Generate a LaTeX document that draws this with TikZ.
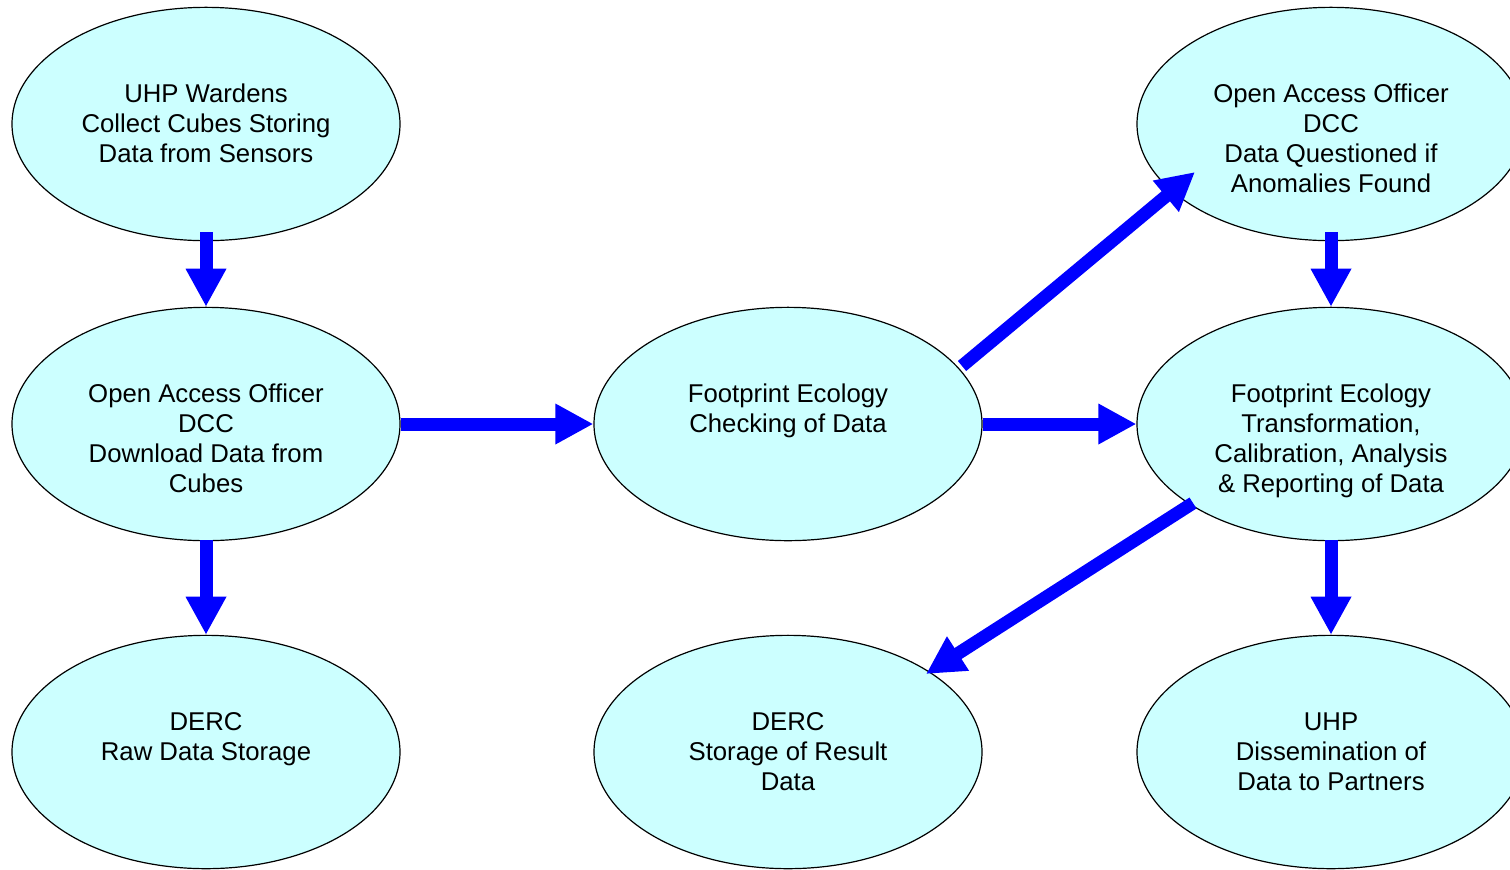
\documentclass[tikz,border=0pt]{standalone}
\usepackage{fontspec}
\setmainfont{Liberation Sans}
\usetikzlibrary{shapes.geometric,arrows.meta,calc}
\definecolor{bubble}{RGB}{204,255,255}
\definecolor{arrowblue}{RGB}{0,0,255}
\tikzset{
  bub/.style={ellipse,draw=black,line width=0.9pt,fill=bubble,minimum width=291pt,minimum height=175pt,inner sep=0pt},
  txt/.style={anchor=north,align=center,inner sep=0pt,font=\fontsize{19.3}{22.5}\selectfont},
  arr/.style={draw=arrowblue,line width=9.75pt,-{Triangle[width=28.5pt,length=28.5pt]}}
}
\begin{document}
\begin{tikzpicture}[x=0.75pt,y=-0.75pt]
\useasboundingbox (0,0) rectangle (1510,869);
\clip (0,0) rectangle (1510,869);
\node[bub] (tl) at (206,124) {};
\node[bub] (ml) at (206,424) {};
\node[bub] (bl) at (206,752) {};
\node[bub] (mc) at (788,424) {};
\node[bub] (bc) at (788,752) {};
\node[bub] (tr) at (1331,124) {};
\node[bub] (mr) at (1331,424) {};
\node[bub] (br) at (1331,752) {};

\node[txt] (ttl) at ($(tl)+(0,-43)$) {\strut UHP Wardens\\Collect Cubes Storing\\Data from Sensors};
\node[txt] (tml) at ($(ml)+(0,-43)$) {\strut Open Access Officer\\DCC\\Download Data from\\Cubes};
\node[txt] (tbl) at ($(bl)+(0,-43)$) {\strut DERC\\Raw Data Storage};
\node[txt] (tmc) at ($(mc)+(0,-43)$) {\strut Footprint Ecology\\Checking of Data};
\node[txt] (tbc) at ($(bc)+(0,-43)$) {\strut DERC\\Storage of Result\\Data};
\node[txt] (ttr) at ($(tr)+(0,-43)$) {\strut Open Access Officer\\DCC\\Data Questioned if\\Anomalies Found};
\node[txt] (tmr) at ($(mr)+(0,-43)$) {\strut Footprint Ecology\\Transformation,\\Calibration, Analysis\\\& Reporting of Data};
\node[txt] (tbr) at ($(br)+(0,-43)$) {\strut UHP\\Dissemination of\\Data to Partners};

\coordinate (s1) at ($(tl.south)+(0,-9)$);
\coordinate (s2) at ($(ml.south)+(0,-1)$);
\coordinate (s6) at ($(tr.south)+(0,-9)$);
\coordinate (s7) at ($(mr.south)+(0,-1)$);
\coordinate (d1s) at ($(mc)+(174,-58)$);
\coordinate (d1e) at ($(tr)+(-136,48)$);
\coordinate (d2s) at ($(mr)+(-138,79)$);
\coordinate (d2e) at ($(bc)+(138,-78)$);

\draw[arr] (s1) -- (ml.north);
\draw[arr] (s2) -- (bl.north);
\draw[arr] (ml.east) -- (mc.west);
\draw[arr] (mc.east) -- (mr.west);
\draw[arr] (d1s) -- (d1e);
\draw[arr] (s6) -- (mr.north);
\draw[arr] (s7) -- (br.north);
\draw[arr] (d2s) -- (d2e);
\end{tikzpicture}
\end{document}
